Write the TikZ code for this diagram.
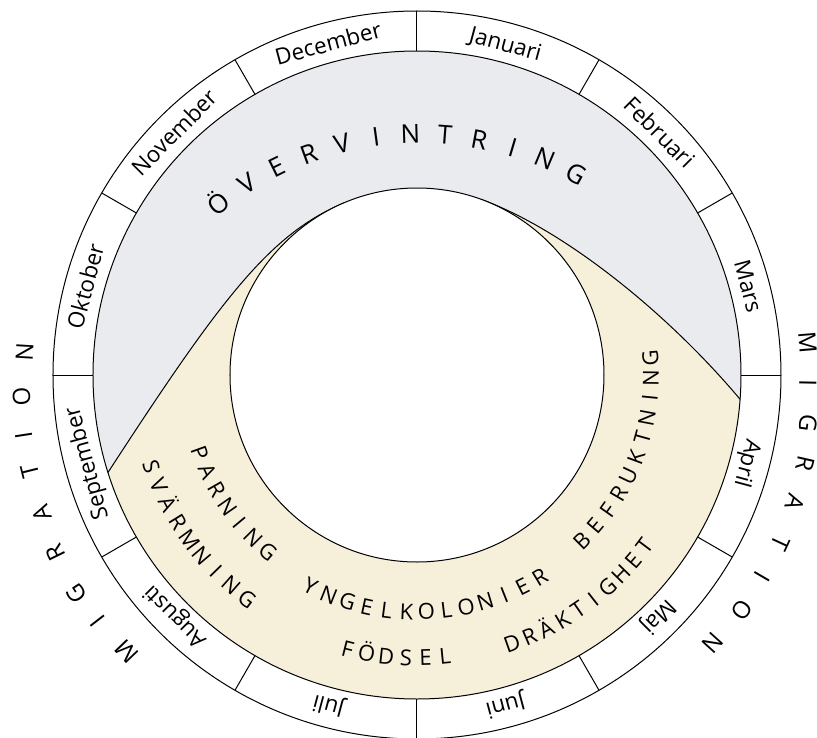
\documentclass[tikz,border=0pt]{standalone}
\usepackage{fontspec}
\setmainfont{Open Sans}
\usetikzlibrary{calc}

\definecolor{wintergrey}{RGB}{234,235,239}
\definecolor{seasonbeige}{RGB}{246,239,218}

\tikzset{
  month/.style={font=\fontsize{22.5}{26}\selectfont, inner sep=0pt, text height=16pt, text depth=0pt},
  phase/.style={font=\fontsize{22}{26}\selectfont, inner sep=0pt, text height=15.7pt, text depth=0pt},
  winter/.style={font=\fontsize{26}{30}\selectfont, inner sep=0pt, text height=18.5pt, text depth=0pt},
  migr/.style={font=\fontsize{24}{28}\selectfont, inner sep=0pt, text height=17pt, text depth=0pt},
}

\begin{document}
\begin{tikzpicture}[x=1pt, y=1pt, line join=round, line width=1pt]
    \useasboundingbox (-417,-362) rectangle (400,375);

    \coordinate (O) at (0,0);
    % where the season band meets the ring and the inner circle
    \coordinate (L)  at (197.5:324);
    \coordinate (Lt) at (113:187);
    \coordinate (Rt) at (70:187);
    \coordinate (R)  at (-4.3:324);

    % Winter fill first, the beige season over it
    \fill[wintergrey] (O) circle (324);
    \fill[seasonbeige] (L) .. controls (-194.5,78.8) and (-146.8,140.8) .. (Lt)
        arc[start angle=113, end angle=70, radius=187]
        .. controls (148.6,144.9) and (252.4,60) .. (R)
        arc[start angle=-4.3, end angle=-162.5, radius=324] -- cycle;
    \draw (L) .. controls (-194.5,78.8) and (-146.8,140.8) .. (Lt);
    \draw (Rt) .. controls (148.6,144.9) and (252.4,60) .. (R);
    \filldraw[fill=white] (O) circle (187);

    % Month ring
    \draw (O) circle (364) (O) circle (324);
    \foreach \a in {0,30,...,330}
        \draw (\a:324) -- (\a:364);
    \foreach \m [count=\i from 0] in {Januari,Februari,Mars,April,Maj,Juni,Juli,Augusti,September,Oktober,November,December}
        \node[month, rotate={75-30*\i-90}] (m\i) at ({75-30*\i}:343) {\m};

    % Winter text, on its own arc
    \begin{scope}[shift={(3,-84)}]
        \foreach \c [count=\i from 0] in {Ö,V,E,R,V,I,N,T,R,I,N,G}
            \node[winter, rotate={128.3-6.1*\i-90}] (ov\i) at ({128.3-6.1*\i}:325) {\c};
    \end{scope}

    % Season texts, read along the lower band
    \foreach \c [count=\i from 0] in {P,A,R,N,I,N,G}
        \node[phase, rotate={289.8+5*\i}] (par\i) at ({199.8+5*\i}:231) {\c};
    \foreach \c [count=\i from 0] in {S,V,Ä,R,M,N,I,N,G}
        \node[phase, rotate={289+4.22*\i}] (sv\i) at ({199+4.22*\i}:281) {\c};
    \foreach \c [count=\i from 0] in {Y,N,G,E,L,K,O,L,O,N,I,E,R}
        \node[phase, rotate={333.3+4.83*\i}] (yn\i) at ({243.3+4.83*\i}:237) {\c};
    \foreach \c [count=\i from 0] in {F,Ö,D,S,E,L}
        \node[phase, rotate={345.8+3.98*\i}] (fo\i) at ({255.8+3.98*\i}:283) {\c};
    \foreach \c [count=\i from 0] in {D,R,Ä,K,T,I,G,H,E,T}
        \node[phase, rotate={379.5+3.74*\i}] (dr\i) at ({289.5+3.74*\i}:285) {\c};
    \foreach \c [count=\i from 0] in {B,E,F,R,U,K,T,N,I,N,G}
        \node[phase, rotate={404.8+4.94*\i}] (be\i) at ({314.8+4.94*\i}:234) {\c};

    % Migration, outside the ring on both sides
    \foreach \c/\a/\r [count=\i] in {M/223.7/401, I/217.7/403, G/212.7/404, R/206.2/403, A/200.2/400,
                                    T/194/399, I/188.7/398, O/183.2/396, N/176.6/393}
        \node[migr, rotate={\a-90}] (ml\i) at (\a:\r) {\c};
    \foreach \c/\a/\r [count=\i] in {M/4.8/392, I/-1.2/391, G/-7/394, R/-12.8/398, A/-18.7/399,
                                    T/-24.8/400, I/-30.3/400, O/-35.9/401, N/-42.2/399}
        \node[migr, rotate={\a-90}] (mr\i) at (\a:\r) {\c};
\end{tikzpicture}
\end{document}
